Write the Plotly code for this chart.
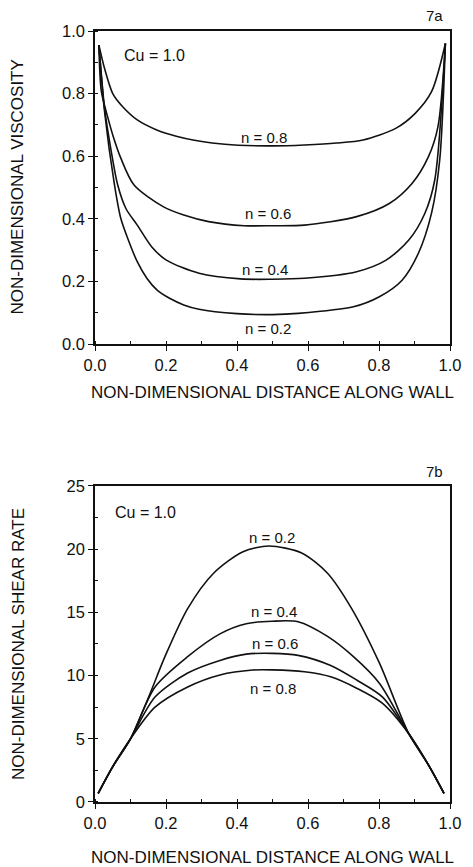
import plotly.graph_objects as go

# ---- Fig. 7a: non-dimensional viscosity along the wall (Cu = 1.0) ----
visc_n = ["0.8", "0.6", "0.4", "0.2"]
visc_x = {
    "0.8": [0.011, 0.027, 0.05, 0.078, 0.119, 0.174, 0.229, 0.28, 0.33, 0.403, 0.5, 0.59, 0.68, 0.755, 0.847, 0.902, 0.948, 0.987],
    "0.6": [0.011, 0.018, 0.037, 0.05, 0.073, 0.11, 0.192, 0.25, 0.32, 0.42, 0.5, 0.59, 0.737, 0.829, 0.893, 0.939, 0.966, 0.987],
    "0.4": [0.011, 0.027, 0.046, 0.064, 0.087, 0.119, 0.16, 0.201, 0.293, 0.41, 0.5, 0.59, 0.737, 0.82, 0.884, 0.929, 0.957, 0.987],
    "0.2": [0.011, 0.027, 0.055, 0.073, 0.092, 0.119, 0.146, 0.175, 0.21, 0.25, 0.293, 0.40, 0.5, 0.572, 0.728, 0.801, 0.865, 0.911, 0.948, 0.971, 0.987],
}
visc_y = {
    "0.8": [0.955, 0.88, 0.80, 0.758, 0.716, 0.684, 0.664, 0.651, 0.642, 0.635, 0.633, 0.636, 0.642, 0.652, 0.689, 0.737, 0.806, 0.96],
    "0.6": [0.955, 0.806, 0.72, 0.668, 0.593, 0.508, 0.439, 0.412, 0.391, 0.378, 0.378, 0.380, 0.407, 0.449, 0.513, 0.598, 0.694, 0.96],
    "0.4": [0.955, 0.753, 0.614, 0.508, 0.433, 0.38, 0.31, 0.268, 0.226, 0.208, 0.207, 0.21, 0.231, 0.268, 0.332, 0.417, 0.524, 0.96],
    "0.2": [0.955, 0.742, 0.508, 0.40, 0.338, 0.263, 0.21, 0.172, 0.146, 0.125, 0.111, 0.097, 0.094, 0.098, 0.119, 0.151, 0.204, 0.29, 0.418, 0.588, 0.96],
}
visc_label_pos = {"0.8": (0.475, 0.66), "0.6": (0.486, 0.418), "0.4": (0.480, 0.238), "0.2": (0.488, 0.05)}

# ---- Fig. 7b: non-dimensional shear rate along the wall (Cu = 1.0) ----
shear_n = ["0.2", "0.4", "0.6", "0.8"]
shear_x = {
    "0.2": [0.009, 0.05, 0.10, 0.151, 0.197, 0.261, 0.334, 0.417, 0.49, 0.582, 0.655, 0.723, 0.801, 0.884, 0.94, 0.983],
    "0.4": [0.009, 0.05, 0.10, 0.169, 0.261, 0.352, 0.426, 0.499, 0.572, 0.655, 0.728, 0.801, 0.884, 0.94, 0.983],
    "0.6": [0.009, 0.05, 0.10, 0.169, 0.261, 0.352, 0.426, 0.5, 0.572, 0.664, 0.737, 0.81, 0.884, 0.94, 0.983],
    "0.8": [0.009, 0.05, 0.10, 0.169, 0.261, 0.352, 0.444, 0.5, 0.59, 0.664, 0.737, 0.81, 0.884, 0.94, 0.983],
}
shear_y = {
    "0.2": [0.69, 2.8, 5.0, 8.3, 11.5, 15.3, 18.1, 19.8, 20.25, 19.7, 18.1, 15.3, 11.0, 5.4, 2.9, 0.69],
    "0.4": [0.69, 2.8, 5.0, 9.1, 11.5, 13.3, 14.1, 14.3, 14.26, 13.1, 11.5, 9.4, 5.4, 2.9, 0.69],
    "0.6": [0.69, 2.8, 5.0, 8.3, 10.2, 11.2, 11.7, 11.76, 11.6, 10.8, 9.65, 8.3, 5.4, 2.9, 0.69],
    "0.8": [0.69, 2.8, 5.0, 7.5, 9.1, 10.05, 10.44, 10.45, 10.3, 9.9, 9.0, 7.8, 5.4, 2.9, 0.69],
}
shear_label_pos = {"0.2": (0.498, 20.9), "0.4": (0.503, 15.06), "0.6": (0.506, 12.5), "0.8": (0.502, 8.94)}

x_ticks = [0.0, 0.2, 0.4, 0.6, 0.8, 1.0]
visc_ticks = [0.0, 0.2, 0.4, 0.6, 0.8, 1.0]
shear_ticks = [0, 5, 10, 15, 20, 25]

FONT = "Liberation Sans, Arial, sans-serif"
INK = "#111111"

fig = go.Figure()

for n in visc_n:
    fig.add_trace(go.Scatter(x=visc_x[n], y=visc_y[n], mode="lines",
                             line=dict(color=INK, width=1.6, shape="spline", smoothing=0.8),
                             xaxis="x", yaxis="y", showlegend=False, hoverinfo="skip"))
for n in shear_n:
    fig.add_trace(go.Scatter(x=shear_x[n], y=shear_y[n], mode="lines",
                             line=dict(color=INK, width=1.6, shape="spline", smoothing=0.8),
                             xaxis="x2", yaxis="y2", showlegend=False, hoverinfo="skip"))

axis_common = dict(
    showline=True, linecolor=INK, linewidth=1.5, mirror=True,
    ticks="outside", ticklen=5, tickwidth=1.3, tickcolor=INK,
    showgrid=False, zeroline=False,
    tickfont=dict(family=FONT, size=16.5, color=INK),
)


def note(text, x, y, xref, yref, size, **extra):
    return dict(x=x, y=y, xref=xref, yref=yref, text=text, showarrow=False,
                xanchor="center", yanchor="middle",
                font=dict(family=FONT, size=size, color=INK), **extra)


annotations = []
for n in visc_n:
    lx, ly = visc_label_pos[n]
    annotations.append(note(f"n = {n}", lx, ly, "x", "y", 15))
for n in shear_n:
    lx, ly = shear_label_pos[n]
    annotations.append(note(f"n = {n}", lx, ly, "x2", "y2", 15))

annotations += [
    note("Cu = 1.0", 0.168, 0.923, "x", "y", 16),
    note("Cu = 1.0", 0.143, 22.9, "x2", "y2", 16),
    note("7a", 0.956, 1.0, "paper", "paper", 15, yshift=16),
    note("7b", 0.956, 0.4099, "paper", "paper", 15, yshift=14),
    # axis titles
    note("NON-DIMENSIONAL DISTANCE ALONG WALL", 0.5, 0.594, "paper", "paper", 17, yshift=-48),
    note("NON-DIMENSIONAL DISTANCE ALONG WALL", 0.5, 0.0, "paper", "paper", 17, yshift=-55),
    note("NON-DIMENSIONAL VISCOSITY", 0.0, 0.797, "paper", "paper", 17, xshift=-77, textangle=-90),
    note("NON-DIMENSIONAL SHEAR RATE", 0.0, 0.2049, "paper", "paper", 17, xshift=-77, textangle=-90),
]

fig.update_layout(
    width=473, height=867,
    margin=dict(l=95, r=14, t=31, b=65),
    paper_bgcolor="white", plot_bgcolor="white",
    xaxis=dict(domain=[0, 1], range=[0, 1], anchor="y", tickvals=x_ticks,
               ticktext=[f"{t:.1f}" for t in x_ticks],
               minor=dict(ticks="inside", ticklen=3, dtick=0.1, tick0=0, tickcolor=INK), **axis_common),
    yaxis=dict(domain=[0.594, 1.0], range=[0, 1], anchor="x", tickvals=visc_ticks,
               ticktext=[f"{t:.1f}" for t in visc_ticks],
               minor=dict(ticks="inside", ticklen=3, dtick=0.1, tick0=0, tickcolor=INK), **axis_common),
    xaxis2=dict(domain=[0, 1], range=[0, 1], anchor="y2", tickvals=x_ticks,
                ticktext=[f"{t:.1f}" for t in x_ticks],
                minor=dict(ticks="inside", ticklen=3, dtick=0.1, tick0=0, tickcolor=INK), **axis_common),
    yaxis2=dict(domain=[0.0, 0.4099], range=[0, 25], anchor="x2", tickvals=shear_ticks,
                ticktext=[str(t) for t in shear_ticks],
                minor=dict(ticks="inside", ticklen=3, dtick=2.5, tick0=0, tickcolor=INK), **axis_common),
    annotations=annotations,
)

fig.write_html("out.html")
